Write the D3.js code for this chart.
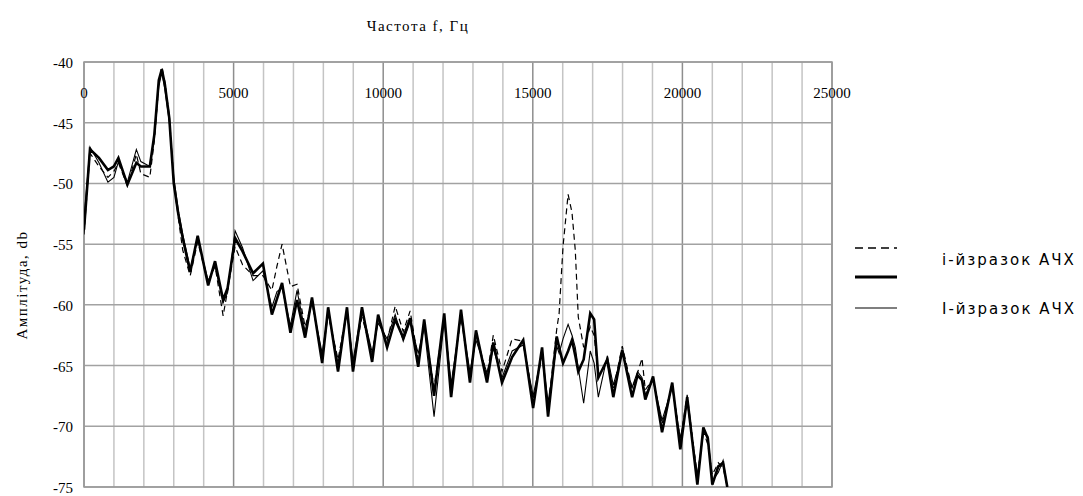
<!DOCTYPE html>
<html><head><meta charset="utf-8">
<script src="https://cdn.jsdelivr.net/npm/d3@7/dist/d3.min.js"></script>
<style>body{margin:0;background:#fff}svg{display:block}</style>
</head><body>
<svg id="c" width="1083" height="496"></svg>
<script>
const freq = [0,200,500,800,1000,1150,1450,1750,1900,2200,2350,2500,2600,2700,2850,3000,3150,3300,3550,3800,4150,4380,4650,4800,5050,5300,5650,5980,6280,6450,6620,6900,7120,7390,7620,7960,8160,8490,8790,8990,9290,9630,9830,10130,10400,10670,10900,11170,11370,11700,12040,12270,12600,12900,13100,13470,13680,13970,14310,14680,15010,15310,15510,15800,15880,16010,16180,16310,16420,16520,16700,16920,17050,17190,17490,17690,17990,18320,18500,18650,18760,19020,19320,19660,19930,20160,20500,20700,20850,21000,21200,21360,21500];
const thick = [-53.8,-47.2,-47.9,-48.9,-48.6,-47.9,-50.1,-48.3,-48.6,-48.6,-46.0,-41.5,-40.6,-41.8,-44.6,-50.0,-52.5,-54.5,-57.3,-54.3,-58.4,-56.4,-59.6,-58.6,-54.5,-55.6,-57.4,-56.6,-60.8,-59.5,-58.2,-62.3,-59.6,-62.7,-59.4,-64.8,-60.2,-65.5,-60.2,-65.5,-60.2,-64.7,-60.8,-63.5,-61.2,-62.7,-61.1,-65.1,-61.2,-67.5,-60.7,-67.6,-60.4,-66.4,-62.1,-66.4,-63.1,-66.4,-64.3,-62.9,-68.5,-63.5,-69.2,-62.6,-63.5,-64.8,-63.8,-62.9,-64.2,-65.5,-64.5,-60.7,-61.2,-66.0,-64.5,-67.6,-63.7,-67.6,-65.8,-66.2,-67.8,-65.9,-70.5,-66.4,-71.9,-67.6,-74.8,-70.1,-71.0,-74.8,-73.3,-73.0,-75.0];
const thin = [-53.0,-47.0,-48.3,-49.9,-49.5,-48.2,-49.9,-47.2,-48.2,-48.6,-46.2,-42.0,-40.9,-42.2,-44.9,-49.5,-52.2,-54.2,-57.0,-54.6,-58.0,-56.8,-59.8,-59.0,-53.9,-55.3,-58.0,-57.2,-60.2,-58.9,-58.6,-61.7,-58.8,-62.2,-59.8,-64.0,-60.6,-64.8,-60.6,-64.6,-60.4,-63.9,-61.5,-62.8,-60.8,-63.0,-61.4,-64.0,-61.8,-69.2,-61.3,-66.5,-60.9,-65.5,-62.9,-65.6,-63.6,-66.0,-63.8,-63.3,-67.5,-64.0,-68.0,-63.4,-64.0,-62.8,-61.6,-62.5,-63.5,-65.2,-68.1,-63.8,-64.8,-67.6,-64.2,-66.6,-64.0,-66.8,-65.5,-66.0,-67.4,-66.2,-69.5,-66.8,-71.0,-68.0,-74.0,-70.6,-70.8,-74.5,-73.8,-72.8,-75.0];
const dashed = [-54.2,-47.5,-48.6,-49.5,-49.0,-48.3,-50.2,-47.6,-49.2,-49.5,-46.5,-41.8,-40.4,-41.6,-44.4,-49.8,-52.8,-55.5,-57.6,-54.8,-58.2,-56.8,-60.9,-58.8,-55.2,-56.7,-57.6,-57.6,-58.8,-56.8,-55.0,-58.5,-58.3,-61.8,-59.8,-64.3,-60.8,-64.5,-60.4,-65.0,-61.0,-64.0,-61.2,-63.0,-60.1,-62.2,-60.5,-64.5,-61.6,-66.8,-61.0,-66.8,-61.0,-66.0,-62.4,-65.8,-62.5,-65.5,-62.8,-63.0,-67.8,-64.2,-68.5,-62.0,-60.7,-55.2,-50.9,-52.4,-55.5,-61.0,-63.5,-61.8,-62.5,-65.8,-64.8,-67.0,-63.4,-66.9,-65.6,-64.4,-67.0,-66.1,-69.8,-66.6,-71.2,-67.4,-74.2,-70.4,-71.5,-74.0,-73.0,-73.4,-75.0];
const xTicks = [0,5000,10000,15000,20000,25000];
const yTicks = [-40,-45,-50,-55,-60,-65,-70,-75];
const legendLabels = ["і-йзразок АЧХ","І-йзразок АЧХ"];

const svg = d3.select("#c");
const L=84,T=62,R=832,B=487;
const x = d3.scaleLinear().domain([0,25000]).range([L,R]);
const y = d3.scaleLinear().domain([-75,-40]).range([B,T]);

svg.append("defs").append("clipPath").attr("id","pc").append("rect")
  .attr("x",L).attr("y",T).attr("width",R-L).attr("height",B-T);

const minor = d3.range(0,25001,1000);
svg.append("g").selectAll("line").data(minor).join("line")
  .attr("x1",d=>x(d)).attr("x2",d=>x(d)).attr("y1",T).attr("y2",B)
  .attr("stroke",d=>d%5000===0?"#8e8e8e":"#c4c4c4").attr("stroke-width",1.5);
svg.append("g").selectAll("line").data(yTicks).join("line")
  .attr("x1",L).attr("x2",R).attr("y1",d=>y(d)).attr("y2",d=>y(d))
  .attr("stroke","#a2a2a2").attr("stroke-width",1.5);
svg.append("rect").attr("x",L).attr("y",T).attr("width",R-L).attr("height",B-T)
  .attr("fill","none").attr("stroke","#9a9a9a").attr("stroke-width",1.5);

svg.append("g").selectAll("text").data(xTicks).join("text")
  .attr("x",d=>x(d)).attr("y",T+36).attr("text-anchor","middle")
  .attr("font-family","Liberation Serif").attr("font-size",15).attr("fill","#000")
  .text(d=>d);
svg.append("g").selectAll("text").data(yTicks).join("text")
  .attr("x",L-11).attr("y",d=>Math.min(y(d)+6,494)).attr("text-anchor","end")
  .attr("font-family","Liberation Serif").attr("font-size",15).attr("fill","#000")
  .text(d=>d);

svg.append("text").attr("x",418).attr("y",31).attr("text-anchor","middle")
  .attr("font-family","Liberation Serif").attr("font-size",15).attr("letter-spacing",1.5).text("Частота f, Гц");
svg.append("text").attr("transform","translate(27,285) rotate(-90)").attr("text-anchor","middle")
  .attr("font-family","Liberation Serif").attr("font-size",15).attr("letter-spacing",1.5).text("Амплітуда, db");

const line = (vals)=>d3.line().x((d,i)=>x(freq[i])).y(d=>y(d))(vals);
const g = svg.append("g").attr("clip-path","url(#pc)");
g.append("path").attr("d",line(thick)).attr("fill","none").attr("stroke","#000").attr("stroke-width",2.6);
g.append("path").attr("d",line(thin)).attr("fill","none").attr("stroke","#000").attr("stroke-width",1.1);
g.append("path").attr("d",line(dashed)).attr("fill","none").attr("stroke","#000").attr("stroke-width",1.2).attr("stroke-dasharray","6,4");

const lg = svg.append("g");
lg.append("line").attr("x1",855).attr("x2",897).attr("y1",248).attr("y2",248).attr("stroke","#000").attr("stroke-width",1.3).attr("stroke-dasharray","8,5");
lg.append("line").attr("x1",855).attr("x2",897).attr("y1",277).attr("y2",277).attr("stroke","#000").attr("stroke-width",3);
lg.append("line").attr("x1",855).attr("x2",897).attr("y1",308).attr("y2",308).attr("stroke","#000").attr("stroke-width",1.2);
lg.selectAll("text").data(legendLabels).join("text")
  .attr("x",942).attr("y",(d,i)=>i===0?265:314)
  .attr("font-family","DejaVu Sans").attr("font-size",15).attr("letter-spacing",2).attr("fill","#000")
  .text(d=>d);
</script>
</body></html>
